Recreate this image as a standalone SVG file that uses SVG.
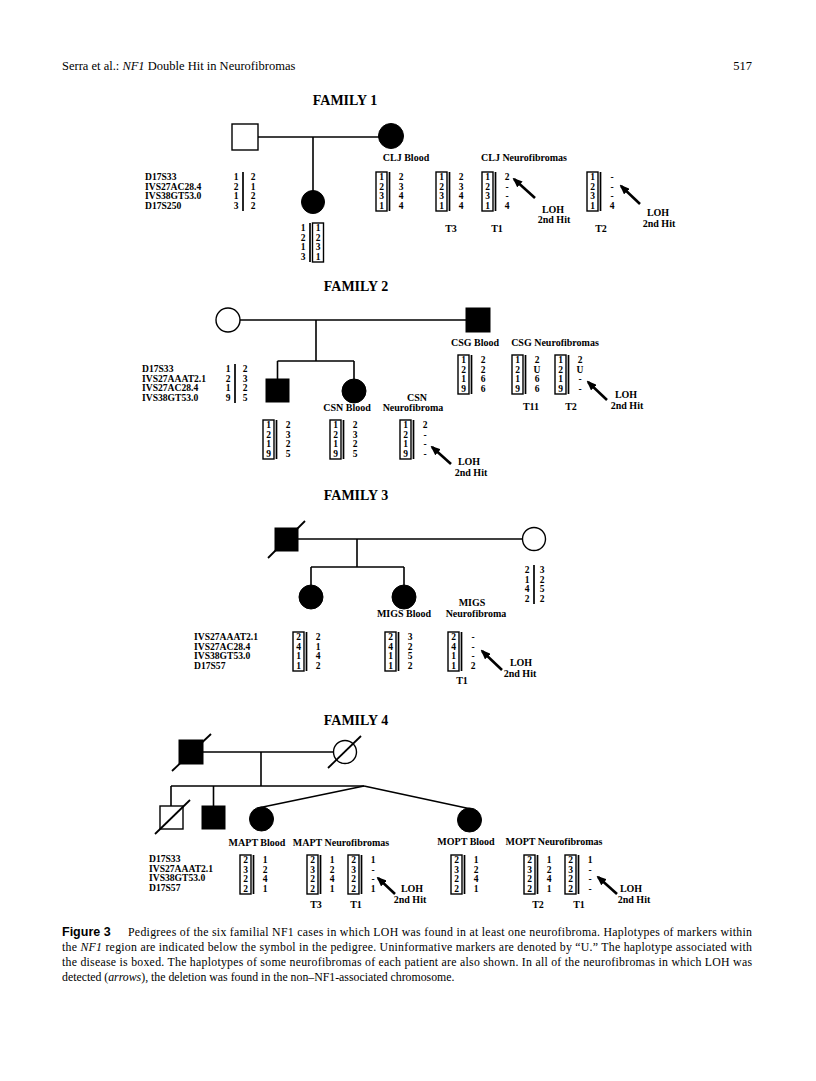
<svg xmlns="http://www.w3.org/2000/svg" xmlns:xlink="http://www.w3.org/1999/xlink" width="816" height="1081" viewBox="0 0 816 1081">
<style>
.hd{font-family:"Liberation Serif",serif;font-size:12.5px}
.ti{font-family:"Liberation Serif",serif;font-weight:bold;font-size:14px;text-anchor:middle}
.lb{font-family:"Liberation Serif",serif;font-weight:bold;font-size:10px;text-anchor:middle}
.mk{font-family:"Liberation Serif",serif;font-weight:bold;font-size:9.6px}
.n{font-family:"Liberation Serif",serif;font-weight:bold;font-size:9.5px;text-anchor:middle}
.box{fill:none;stroke:#000;stroke-width:1.4}
.bar{stroke:#000;stroke-width:1.7}
.ln{stroke:#000;stroke-width:1.6;fill:none}
.sl{stroke:#000;stroke-width:1.8}
.fl{fill:#000;stroke:#000;stroke-width:1}
.op{fill:#fff;stroke:#000;stroke-width:1.4}
.ar{stroke:#000;stroke-width:2.6;marker-end:url(#ah)}
.cap{font-family:"Liberation Serif",serif;font-size:11.8px}
</style>
<defs>
<marker id="ah" markerUnits="userSpaceOnUse" markerWidth="10" markerHeight="8" refX="8" refY="4" orient="auto"><path d="M0,0 L10,4 L0,8 z" fill="#000"/></marker>
<g id="hb"><rect x="0" y="0" width="11" height="39" class="box"/><line x1="13.5" y1="0" x2="13.5" y2="39" class="bar"/></g>
</defs>
<rect width="816" height="1081" fill="#fff"/>

<g id="header">
<text class="hd" x="62" y="70">Serra et al.: <tspan font-style="italic">NF1</tspan> Double Hit in Neurofibromas</text>
<text class="hd" x="752" y="70" text-anchor="end" font-size="14">517</text>
</g>

<text class="ti" x="345" y="105">FAMILY 1</text>
<g id="connectors">
<line class="ln" x1="258" y1="137" x2="379" y2="137"/>
<line class="ln" x1="313" y1="137" x2="313" y2="191"/>
<line class="ln" x1="240" y1="320" x2="466" y2="320"/>
<line class="ln" x1="316" y1="320" x2="316" y2="361"/>
<line class="ln" x1="277.5" y1="361" x2="354" y2="361"/>
<line class="ln" x1="277.5" y1="361" x2="277.5" y2="379"/>
<line class="ln" x1="354" y1="361" x2="354" y2="379"/>
<line class="ln" x1="298" y1="539" x2="522.5" y2="539"/>
<line class="ln" x1="357" y1="539" x2="357" y2="567"/>
<line class="ln" x1="311" y1="567" x2="404" y2="567"/>
<line class="ln" x1="311" y1="567" x2="311" y2="585"/>
<line class="ln" x1="404" y1="567" x2="404" y2="585"/>
<line class="ln" x1="203" y1="752" x2="333.5" y2="752"/>
<line class="ln" x1="261" y1="752" x2="261" y2="786"/>
<line class="ln" x1="171" y1="786" x2="364" y2="786"/>
<line class="ln" x1="171" y1="786" x2="171" y2="806"/>
<line class="ln" x1="213.5" y1="786" x2="213.5" y2="806"/>
<line class="ln" x1="364" y1="786" x2="258" y2="808"/>
<line class="ln" x1="364" y1="786" x2="471" y2="809"/>
<line class="ar" x1="535" y1="198" x2="514" y2="179"/>
<line class="ar" x1="640" y1="204" x2="621" y2="186"/>
<line class="ar" x1="607" y1="400" x2="588" y2="382"/>
<line class="ar" x1="451" y1="464" x2="432" y2="447"/>
<line class="ar" x1="502" y1="670" x2="482" y2="651"/>
<line class="ar" x1="395" y1="894" x2="378" y2="878"/>
<line class="ar" x1="617" y1="894" x2="598" y2="877"/>
</g>

<g id="f1-father"><rect class="op" x="232" y="124" width="26" height="26"/></g>
<g id="f1-clj"><circle class="fl" cx="391" cy="136" r="12.5"/></g>
<g id="f1-child"><circle class="fl" cx="313" cy="202" r="11.5"/></g>

<g id="f1-markers">
<text class="mk" x="145" y="180.3">D17S33</text>
<text class="mk" x="145" y="189.7">IVS27AC28.4</text>
<text class="mk" x="145" y="199.1">IVS38GT53.0</text>
<text class="mk" x="145" y="208.5">D17S250</text>
</g>
<g id="f1-parent-hap" transform="translate(236,172)">
<line class="bar" x1="7" y1="0" x2="7" y2="39"/>
<text class="n"><tspan x="0" y="8.3">1</tspan><tspan x="0" y="17.7">2</tspan><tspan x="0" y="27.1">1</tspan><tspan x="0" y="36.5">3</tspan></text>
<text class="n"><tspan x="17" y="8.3">2</tspan><tspan x="17" y="17.7">1</tspan><tspan x="17" y="27.1">2</tspan><tspan x="17" y="36.5">2</tspan></text>
</g>
<g id="f1-child-hap" transform="translate(303,223)">
<line class="bar" x1="7" y1="0" x2="7" y2="39"/>
<rect class="box" x="9.5" y="0" width="11" height="39"/>
<text class="n"><tspan x="0" y="8.3">1</tspan><tspan x="0" y="17.7">2</tspan><tspan x="0" y="27.1">1</tspan><tspan x="0" y="36.5">3</tspan></text>
<text class="n"><tspan x="15" y="8.3">1</tspan><tspan x="15" y="17.7">2</tspan><tspan x="15" y="27.1">3</tspan><tspan x="15" y="36.5">1</tspan></text>
</g>
<g id="f1-labels">
<text class="lb" x="406" y="161">CLJ Blood</text>
<text class="lb" x="524" y="161">CLJ Neurofibromas</text>
<text class="lb" x="451" y="232">T3</text>
<text class="lb" x="497" y="232">T1</text>
<text class="lb" x="601" y="232">T2</text>
<text class="lb" x="553" y="213">LOH</text>
<text class="lb" x="554" y="223">2nd Hit</text>
<text class="lb" x="658" y="216">LOH</text>
<text class="lb" x="659" y="227">2nd Hit</text>
</g>
<g id="f1-clj-blood" transform="translate(376,172)"><use xlink:href="#hb"/>
<text class="n"><tspan x="5.5" y="8.3">1</tspan><tspan x="5.5" y="17.7">2</tspan><tspan x="5.5" y="27.1">3</tspan><tspan x="5.5" y="36.5">1</tspan></text>
<text class="n"><tspan x="25" y="8.3">2</tspan><tspan x="25" y="17.7">3</tspan><tspan x="25" y="27.1">4</tspan><tspan x="25" y="36.5">4</tspan></text></g>
<g id="f1-t3" transform="translate(436,172)"><use xlink:href="#hb"/>
<text class="n"><tspan x="5.5" y="8.3">1</tspan><tspan x="5.5" y="17.7">2</tspan><tspan x="5.5" y="27.1">3</tspan><tspan x="5.5" y="36.5">1</tspan></text>
<text class="n"><tspan x="25" y="8.3">2</tspan><tspan x="25" y="17.7">3</tspan><tspan x="25" y="27.1">4</tspan><tspan x="25" y="36.5">4</tspan></text></g>
<g id="f1-t1" transform="translate(482,172)"><use xlink:href="#hb"/>
<text class="n"><tspan x="5.5" y="8.3">1</tspan><tspan x="5.5" y="17.7">2</tspan><tspan x="5.5" y="27.1">3</tspan><tspan x="5.5" y="36.5">1</tspan></text>
<text class="n"><tspan x="25" y="8.3">2</tspan><tspan x="25" y="17.7">-</tspan><tspan x="25" y="27.1">-</tspan><tspan x="25" y="36.5">4</tspan></text></g>
<g id="f1-t2" transform="translate(587,172)"><use xlink:href="#hb"/>
<text class="n"><tspan x="5.5" y="8.3">1</tspan><tspan x="5.5" y="17.7">2</tspan><tspan x="5.5" y="27.1">3</tspan><tspan x="5.5" y="36.5">1</tspan></text>
<text class="n"><tspan x="25" y="8.3">-</tspan><tspan x="25" y="17.7">-</tspan><tspan x="25" y="27.1">-</tspan><tspan x="25" y="36.5">4</tspan></text></g>

<text class="ti" x="356" y="291">FAMILY 2</text>
<g id="f2-mother"><circle class="op" cx="228" cy="320" r="12"/></g>
<g id="f2-csg"><rect class="fl" x="466" y="308" width="24" height="24"/></g>
<g id="f2-son"><rect class="fl" x="266" y="379" width="23" height="23"/></g>
<g id="f2-csn"><circle class="fl" cx="354" cy="391" r="12"/></g>
<g id="f2-markers">
<text class="mk" x="142" y="372.3">D17S33</text>
<text class="mk" x="142" y="381.7">IVS27AAAT2.1</text>
<text class="mk" x="142" y="391.1">IVS27AC28.4</text>
<text class="mk" x="142" y="400.5">IVS38GT53.0</text>
</g>
<g id="f2-parent-hap" transform="translate(228,364)">
<line class="bar" x1="7" y1="0" x2="7" y2="39"/>
<text class="n"><tspan x="0" y="8.3">1</tspan><tspan x="0" y="17.7">2</tspan><tspan x="0" y="27.1">1</tspan><tspan x="0" y="36.5">9</tspan></text>
<text class="n"><tspan x="17" y="8.3">2</tspan><tspan x="17" y="17.7">3</tspan><tspan x="17" y="27.1">2</tspan><tspan x="17" y="36.5">5</tspan></text>
</g>
<g id="f2-labels">
<text class="lb" x="475" y="346">CSG Blood</text>
<text class="lb" x="555" y="346">CSG Neurofibromas</text>
<text class="lb" x="531" y="410">T11</text>
<text class="lb" x="571" y="410">T2</text>
<text class="lb" x="626" y="398">LOH</text>
<text class="lb" x="627" y="409">2nd Hit</text>
<text class="lb" x="417" y="401">CSN</text>
<text class="lb" x="347" y="411">CSN Blood</text>
<text class="lb" x="413" y="411">Neurofibroma</text>
<text class="lb" x="469" y="465">LOH</text>
<text class="lb" x="471" y="476">2nd Hit</text>
</g>
<g id="f2-csg-blood" transform="translate(458,355)"><use xlink:href="#hb"/>
<text class="n"><tspan x="5.5" y="8.3">1</tspan><tspan x="5.5" y="17.7">2</tspan><tspan x="5.5" y="27.1">1</tspan><tspan x="5.5" y="36.5">9</tspan></text>
<text class="n"><tspan x="25" y="8.3">2</tspan><tspan x="25" y="17.7">2</tspan><tspan x="25" y="27.1">6</tspan><tspan x="25" y="36.5">6</tspan></text></g>
<g id="f2-t11" transform="translate(512,355)"><use xlink:href="#hb"/>
<text class="n"><tspan x="5.5" y="8.3">1</tspan><tspan x="5.5" y="17.7">2</tspan><tspan x="5.5" y="27.1">1</tspan><tspan x="5.5" y="36.5">9</tspan></text>
<text class="n"><tspan x="25" y="8.3">2</tspan><tspan x="25" y="17.7">U</tspan><tspan x="25" y="27.1">6</tspan><tspan x="25" y="36.5">6</tspan></text></g>
<g id="f2-t2" transform="translate(555,355)"><use xlink:href="#hb"/>
<text class="n"><tspan x="5.5" y="8.3">1</tspan><tspan x="5.5" y="17.7">2</tspan><tspan x="5.5" y="27.1">1</tspan><tspan x="5.5" y="36.5">9</tspan></text>
<text class="n"><tspan x="25" y="8.3">2</tspan><tspan x="25" y="17.7">U</tspan><tspan x="25" y="27.1">-</tspan><tspan x="25" y="36.5">-</tspan></text></g>
<g id="f2-son-hap" transform="translate(263,420)"><use xlink:href="#hb"/>
<text class="n"><tspan x="5.5" y="8.3">1</tspan><tspan x="5.5" y="17.7">2</tspan><tspan x="5.5" y="27.1">1</tspan><tspan x="5.5" y="36.5">9</tspan></text>
<text class="n"><tspan x="25" y="8.3">2</tspan><tspan x="25" y="17.7">3</tspan><tspan x="25" y="27.1">2</tspan><tspan x="25" y="36.5">5</tspan></text></g>
<g id="f2-csn-blood" transform="translate(330,420)"><use xlink:href="#hb"/>
<text class="n"><tspan x="5.5" y="8.3">1</tspan><tspan x="5.5" y="17.7">2</tspan><tspan x="5.5" y="27.1">1</tspan><tspan x="5.5" y="36.5">9</tspan></text>
<text class="n"><tspan x="25" y="8.3">2</tspan><tspan x="25" y="17.7">3</tspan><tspan x="25" y="27.1">2</tspan><tspan x="25" y="36.5">5</tspan></text></g>
<g id="f2-csn-nf" transform="translate(400,420)"><use xlink:href="#hb"/>
<text class="n"><tspan x="5.5" y="8.3">1</tspan><tspan x="5.5" y="17.7">2</tspan><tspan x="5.5" y="27.1">1</tspan><tspan x="5.5" y="36.5">9</tspan></text>
<text class="n"><tspan x="25" y="8.3">2</tspan><tspan x="25" y="17.7">-</tspan><tspan x="25" y="27.1">-</tspan><tspan x="25" y="36.5">-</tspan></text></g>

<text class="ti" x="356" y="500">FAMILY 3</text>
<g id="f3-father"><rect class="fl" x="275" y="528" width="23" height="23"/><line class="sl" x1="268" y1="558" x2="305" y2="521"/></g>
<g id="f3-mother"><circle class="op" cx="534" cy="539" r="11.5"/></g>
<g id="f3-daughter1"><circle class="fl" cx="311" cy="597" r="12"/></g>
<g id="f3-migs"><circle class="fl" cx="404" cy="597" r="12"/></g>
<g id="f3-mother-hap" transform="translate(527,565)">
<line class="bar" x1="7" y1="0" x2="7" y2="39"/>
<text class="n"><tspan x="0" y="8.3">2</tspan><tspan x="0" y="17.7">1</tspan><tspan x="0" y="27.1">4</tspan><tspan x="0" y="36.5">2</tspan></text>
<text class="n"><tspan x="15" y="8.3">3</tspan><tspan x="15" y="17.7">2</tspan><tspan x="15" y="27.1">5</tspan><tspan x="15" y="36.5">2</tspan></text>
</g>
<g id="f3-markers">
<text class="mk" x="194" y="640.3">IVS27AAAT2.1</text>
<text class="mk" x="194" y="649.7">IVS27AC28.4</text>
<text class="mk" x="194" y="659.1">IVS38GT53.0</text>
<text class="mk" x="194" y="668.5">D17S57</text>
</g>
<g id="f3-labels">
<text class="lb" x="472" y="606">MIGS</text>
<text class="lb" x="404" y="617">MIGS Blood</text>
<text class="lb" x="476" y="617">Neurofibroma</text>
<text class="lb" x="462" y="684">T1</text>
<text class="lb" x="521" y="666">LOH</text>
<text class="lb" x="520" y="677">2nd Hit</text>
</g>
<g id="f3-d1-hap" transform="translate(293,632)"><use xlink:href="#hb"/>
<text class="n"><tspan x="5.5" y="8.3">2</tspan><tspan x="5.5" y="17.7">4</tspan><tspan x="5.5" y="27.1">1</tspan><tspan x="5.5" y="36.5">1</tspan></text>
<text class="n"><tspan x="25" y="8.3">2</tspan><tspan x="25" y="17.7">1</tspan><tspan x="25" y="27.1">4</tspan><tspan x="25" y="36.5">2</tspan></text></g>
<g id="f3-migs-blood" transform="translate(385,632)"><use xlink:href="#hb"/>
<text class="n"><tspan x="5.5" y="8.3">2</tspan><tspan x="5.5" y="17.7">4</tspan><tspan x="5.5" y="27.1">1</tspan><tspan x="5.5" y="36.5">1</tspan></text>
<text class="n"><tspan x="25" y="8.3">3</tspan><tspan x="25" y="17.7">2</tspan><tspan x="25" y="27.1">5</tspan><tspan x="25" y="36.5">2</tspan></text></g>
<g id="f3-migs-t1" transform="translate(448,632)"><use xlink:href="#hb"/>
<text class="n"><tspan x="5.5" y="8.3">2</tspan><tspan x="5.5" y="17.7">4</tspan><tspan x="5.5" y="27.1">1</tspan><tspan x="5.5" y="36.5">1</tspan></text>
<text class="n"><tspan x="25" y="8.3">-</tspan><tspan x="25" y="17.7">-</tspan><tspan x="25" y="27.1">-</tspan><tspan x="25" y="36.5">2</tspan></text></g>

<text class="ti" x="356" y="725">FAMILY 4</text>
<g id="f4-father"><rect class="fl" x="179" y="740" width="24" height="24"/><line class="sl" x1="172" y1="771" x2="211" y2="734"/></g>
<g id="f4-mother"><circle class="op" cx="345" cy="752" r="11.5"/><line class="sl" x1="328" y1="768" x2="361" y2="736"/></g>
<g id="f4-son1"><rect class="op" x="160" y="806" width="23" height="23"/><line class="sl" x1="155" y1="834" x2="190" y2="800"/></g>
<g id="f4-son2"><rect class="fl" x="202" y="806" width="23" height="23"/></g>
<g id="f4-mapt"><circle class="fl" cx="261.5" cy="819" r="12"/></g>
<g id="f4-mopt"><circle class="fl" cx="469.5" cy="820" r="12"/></g>
<g id="f4-markers">
<text class="mk" x="149" y="862.3">D17S33</text>
<text class="mk" x="149" y="871.7">IVS27AAAT2.1</text>
<text class="mk" x="149" y="881.1">IVS38GT53.0</text>
<text class="mk" x="149" y="890.5">D17S57</text>
</g>
<g id="f4-labels">
<text class="lb" x="257" y="846">MAPT Blood</text>
<text class="lb" x="341" y="846">MAPT Neurofibromas</text>
<text class="lb" x="466" y="845">MOPT Blood</text>
<text class="lb" x="554" y="845">MOPT Neurofibromas</text>
<text class="lb" x="316" y="908">T3</text>
<text class="lb" x="356" y="908">T1</text>
<text class="lb" x="538" y="908">T2</text>
<text class="lb" x="579" y="908">T1</text>
<text class="lb" x="412" y="892">LOH</text>
<text class="lb" x="410" y="903">2nd Hit</text>
<text class="lb" x="631" y="892">LOH</text>
<text class="lb" x="634" y="903">2nd Hit</text>
</g>
<g id="f4-mapt-blood" transform="translate(240,855)"><use xlink:href="#hb"/>
<text class="n"><tspan x="5.5" y="8.3">2</tspan><tspan x="5.5" y="17.7">3</tspan><tspan x="5.5" y="27.1">2</tspan><tspan x="5.5" y="36.5">2</tspan></text>
<text class="n"><tspan x="25" y="8.3">1</tspan><tspan x="25" y="17.7">2</tspan><tspan x="25" y="27.1">4</tspan><tspan x="25" y="36.5">1</tspan></text></g>
<g id="f4-mapt-t3" transform="translate(307,855)"><use xlink:href="#hb"/>
<text class="n"><tspan x="5.5" y="8.3">2</tspan><tspan x="5.5" y="17.7">3</tspan><tspan x="5.5" y="27.1">2</tspan><tspan x="5.5" y="36.5">2</tspan></text>
<text class="n"><tspan x="25" y="8.3">1</tspan><tspan x="25" y="17.7">2</tspan><tspan x="25" y="27.1">4</tspan><tspan x="25" y="36.5">1</tspan></text></g>
<g id="f4-mapt-t1" transform="translate(348,855)"><use xlink:href="#hb"/>
<text class="n"><tspan x="5.5" y="8.3">2</tspan><tspan x="5.5" y="17.7">3</tspan><tspan x="5.5" y="27.1">2</tspan><tspan x="5.5" y="36.5">2</tspan></text>
<text class="n"><tspan x="25" y="8.3">1</tspan><tspan x="25" y="17.7">-</tspan><tspan x="25" y="27.1">-</tspan><tspan x="25" y="36.5">1</tspan></text></g>
<g id="f4-mopt-blood" transform="translate(451,855)"><use xlink:href="#hb"/>
<text class="n"><tspan x="5.5" y="8.3">2</tspan><tspan x="5.5" y="17.7">3</tspan><tspan x="5.5" y="27.1">2</tspan><tspan x="5.5" y="36.5">2</tspan></text>
<text class="n"><tspan x="25" y="8.3">1</tspan><tspan x="25" y="17.7">2</tspan><tspan x="25" y="27.1">4</tspan><tspan x="25" y="36.5">1</tspan></text></g>
<g id="f4-mopt-t2" transform="translate(524,855)"><use xlink:href="#hb"/>
<text class="n"><tspan x="5.5" y="8.3">2</tspan><tspan x="5.5" y="17.7">3</tspan><tspan x="5.5" y="27.1">2</tspan><tspan x="5.5" y="36.5">2</tspan></text>
<text class="n"><tspan x="25" y="8.3">1</tspan><tspan x="25" y="17.7">2</tspan><tspan x="25" y="27.1">4</tspan><tspan x="25" y="36.5">1</tspan></text></g>
<g id="f4-mopt-t1" transform="translate(565,855)"><use xlink:href="#hb"/>
<text class="n"><tspan x="5.5" y="8.3">2</tspan><tspan x="5.5" y="17.7">3</tspan><tspan x="5.5" y="27.1">2</tspan><tspan x="5.5" y="36.5">2</tspan></text>
<text class="n"><tspan x="25" y="8.3">1</tspan><tspan x="25" y="17.7">-</tspan><tspan x="25" y="27.1">-</tspan><tspan x="25" y="36.5">-</tspan></text></g>

<g id="caption">
<text x="62" y="936" font-family="Liberation Sans,sans-serif" font-weight="bold" font-size="12.5">Figure 3</text>
<text class="cap" x="128" y="936" textLength="624" lengthAdjust="spacing">Pedigrees of the six familial NF1 cases in which LOH was found in at least one neurofibroma. Haplotypes of markers within</text>
<text class="cap" x="62" y="951" textLength="690" lengthAdjust="spacing">the <tspan font-style="italic">NF1</tspan> region are indicated below the symbol in the pedigree. Uninformative markers are denoted by “U.” The haplotype associated with</text>
<text class="cap" x="62" y="966" textLength="690" lengthAdjust="spacing">the disease is boxed. The haplotypes of some neurofibromas of each patient are also shown. In all of the neurofibromas in which LOH was</text>
<text class="cap" x="62" y="981">detected (<tspan font-style="italic">arrows</tspan>), the deletion was found in the non–NF1-associated chromosome.</text>
</g>
</svg>
